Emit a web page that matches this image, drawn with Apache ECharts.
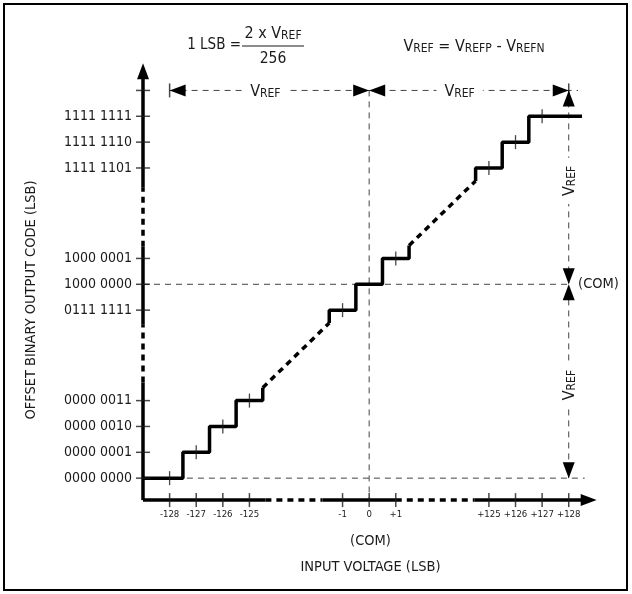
<!DOCTYPE html>
<html>
<head>
<meta charset="utf-8">
<script src="https://cdn.jsdelivr.net/npm/echarts@6/dist/echarts.min.js"></script>
<style>
  html, body { margin: 0; padding: 0; background: #fff; }
  #chart { width: 632px; height: 594px; }
</style>
</head>
<body>
<div id="chart"></div>
<script>
// both axes are broken, so one plot unit = one tick spacing on screen
var xTickPos = [-7.5, -6.5, -5.5, -4.5, -1, 0, 1, 4.5, 5.5, 6.5, 7.5];
var xTickLabels = ['-128', '-127', '-126', '-125', '-1', '0', '+1', '+125', '+126', '+127', '+128'];
var yTickPos = [-7.5, -6.5, -5.5, -4.5, -1, 0, 1, 4.5, 5.5, 6.5, 7.5];
var yTickLabels = ['0000 0000', '0000 0001', '0000 0010', '0000 0011', '0111 1111', '1000 0000',
  '1000 0001', '1111 1101', '1111 1110', '1111 1111', ''];

// transfer function, drawn pieces
var stairLow = [[-8.5, -7.5], [-7, -7.5], [-7, -6.5], [-6, -6.5], [-6, -5.5], [-5, -5.5], [-5, -4.5], [-4, -4.5], [-4, -4]];
var stairMid = [[-1.5, -1.5], [-1.5, -1], [-0.5, -1], [-0.5, 0], [0.5, 0], [0.5, 1], [1.5, 1], [1.5, 1.5]];
var stairHigh = [[4, 4], [4, 4.5], [5, 4.5], [5, 5.5], [6, 5.5], [6, 6.5], [8, 6.5]];
// codes left out
var skipLow = [[-4, -4], [-1.5, -1.5]];
var skipHigh = [[1.5, 1.5], [4, 4]];
// code centres marked on the steps
var stepMarks = [[-7.5, -7.5], [-6.5, -6.5], [-5.5, -5.5], [-4.5, -4.5], [-1, -1], [1, 1], [4.5, 4.5], [5.5, 5.5], [6.5, 6.5]];

// where the axis lines sit, and their solid / broken pieces
var xAxisAt = -8.35;
var yAxisAt = -8.5;
var xAxisSolid = [[-8.5, -3.9], [-1.75, 1], [3.95, 8.2]];
var xAxisBroken = [[-3.9, -1.75], [1, 3.95]];
var yAxisSolid = [[xAxisAt, -3.8], [-1.55, 1.45], [3.75, 8.2]];
var yAxisBroken = [[-3.8, -1.55], [1.45, 3.75]];

// dimension lines [x1, y1, x2, y2]
var guides = [[-7.5, 7.5, 7.85, 7.5], [0, 7.5, 0, xAxisAt], [-8.5, 0, 7.5, 0], [-6.85, -7.5, 8.1, -7.5], [7.5, 7.5, 7.5, -7.5]];
// arrow heads [tipX, tipY, dir] dir: 0 right, 1 up, 2 left, 3 down
var arrowHeads = [[-7.5, 7.5, 2], [0, 7.5, 0], [0, 7.5, 2], [7.5, 7.5, 0], [7.5, 7.5, 1],
  [7.5, 0, 3], [7.5, 0, 1], [7.5, -7.5, 3], [8.55, xAxisAt, 0], [yAxisAt, 8.55, 1]];
var endBars = [[-7.5, 7.5], [7.5, 7.5]];

var FONT = "'DejaVu Sans Condensed', 'Liberation Sans Narrow', sans-serif";
var INK = '#1a1a1a';

function pick(list, labels, v) {
  for (var i = 0; i < list.length; i++) {
    if (Math.abs(list[i] - v) < 1e-6) return labels[i];
  }
  return '';
}

function segments(name, segs, width, dash, color, z) {
  return {
    name: name, type: 'custom', silent: true, z: z,
    data: segs,
    encode: { x: [0, 2], y: [1, 3] },
    renderItem: function (params, api) {
      var a = api.coord([api.value(0), api.value(1)]);
      var b = api.coord([api.value(2), api.value(3)]);
      return {
        type: 'line',
        shape: { x1: a[0], y1: a[1], x2: b[0], y2: b[1] },
        style: { stroke: color, lineWidth: width, lineDash: dash }
      };
    }
  };
}

function stair(name, data, dash) {
  return {
    name: name, type: 'line', data: data, symbol: 'none', silent: true, z: 4,
    lineStyle: { color: '#000', width: 3.5, type: dash || 'solid', cap: 'butt' }
  };
}

var chart = echarts.init(document.getElementById('chart'));

chart.setOption({
  animation: false,
  grid: { left: 143, right: 34, top: 62, bottom: 90, outerBoundsMode: 'none' },
  xAxis: {
    type: 'value', min: -8.5, max: 8.6, interval: 0.5,
    axisLine: { show: false }, axisTick: { show: false }, splitLine: { show: false },
    axisLabel: {
      margin: 6, fontSize: 9.5, fontFamily: FONT, color: INK,
      formatter: function (v) { return pick(xTickPos, xTickLabels, v); }
    },
    name: '(COM)\nINPUT VOLTAGE (LSB)', nameLocation: 'middle', nameGap: 24,
    nameTextStyle: { fontSize: 14.5, fontFamily: FONT, color: INK, lineHeight: 26 }
  },
  yAxis: {
    type: 'value', min: -8.5, max: 8.6, interval: 0.5,
    axisLine: { show: false }, axisTick: { show: false }, splitLine: { show: false },
    axisLabel: {
      margin: 11, fontSize: 14, fontFamily: FONT, color: INK,
      formatter: function (v) { return pick(yTickPos, yTickLabels, v); }
    }
  },
  series: [
    segments('guides', guides, 1, [6, 5], '#444', 1),
    segments('xAxisSolid', xAxisSolid.map(function (s) { return [s[0], xAxisAt, s[1], xAxisAt]; }), 3.5, null, '#000', 3),
    segments('xAxisBroken', xAxisBroken.map(function (s) { return [s[0], xAxisAt, s[1], xAxisAt]; }), 3.5, [6, 5], '#000', 3),
    segments('yAxisSolid', yAxisSolid.map(function (s) { return [yAxisAt, s[0], yAxisAt, s[1]]; }), 3.5, null, '#000', 3),
    segments('yAxisBroken', yAxisBroken.map(function (s) { return [yAxisAt, s[0], yAxisAt, s[1]]; }), 3.5, [6, 5], '#000', 3),
    stair('low', stairLow),
    stair('mid', stairMid),
    stair('high', stairHigh),
    stair('skipLow', skipLow, [6, 5]),
    stair('skipHigh', skipHigh, [6, 5]),
    {
      name: 'stepMarks', type: 'scatter', silent: true, z: 5,
      data: stepMarks, symbol: 'rect', symbolSize: [1.3, 14], itemStyle: { color: INK }
    },
    {
      name: 'xTicks', type: 'scatter', silent: true, z: 5,
      data: xTickPos.map(function (u) { return [u, xAxisAt]; }),
      symbol: 'rect', symbolSize: [1.5, 14], itemStyle: { color: INK }
    },
    {
      name: 'yTicks', type: 'scatter', silent: true, z: 5,
      data: yTickPos.map(function (v) { return [yAxisAt, v]; }),
      symbol: 'rect', symbolSize: [14, 1.5], itemStyle: { color: INK }
    },
    {
      name: 'endBars', type: 'scatter', silent: true, z: 5,
      data: endBars, symbol: 'rect', symbolSize: [1.5, 14], itemStyle: { color: INK }
    },
    {
      name: 'arrows', type: 'custom', silent: true, z: 6,
      data: arrowHeads,
      encode: { x: 0, y: 1 },
      renderItem: function (params, api) {
        var p = api.coord([api.value(0), api.value(1)]);
        var ang = api.value(2) * Math.PI / 2;
        var dx = Math.cos(ang), dy = -Math.sin(ang);
        var L = 16, W = 6;
        return {
          type: 'polygon',
          shape: { points: [
            [p[0], p[1]],
            [p[0] - L * dx + W * dy, p[1] - L * dy - W * dx],
            [p[0] - L * dx - W * dy, p[1] - L * dy + W * dx]
          ] },
          style: { fill: '#000' }
        };
      }
    }
  ]
});

var rich = {
  v: { fontSize: 16, fontFamily: FONT, fill: INK, lineHeight: 19, verticalAlign: 'bottom' },
  s: { fontSize: 12, fontFamily: FONT, fill: INK, lineHeight: 12, verticalAlign: 'bottom' }
};

function px(u, v) { return chart.convertToPixel({ gridIndex: 0 }, [u, v]); }

function vref(u, v, rot) {
  var p = px(u, v);
  return {
    type: 'text', x: p[0], y: p[1], rotation: rot || 0, z: 100,
    style: { text: '{v|V}{s|REF}', rich: rich, align: 'center', verticalAlign: 'middle',
      backgroundColor: '#fff', padding: [1, 8] }
  };
}

var com = px(7.85, 0);

chart.setOption({
  graphic: [
    { type: 'rect', shape: { x: 4, y: 4, width: 623, height: 586 }, style: { fill: null, stroke: '#000', lineWidth: 2 } },
    vref(-3.9, 7.5),
    vref(3.4, 7.5),
    vref(7.5, 4.0, Math.PI / 2),
    vref(7.5, -3.9, Math.PI / 2),
    { type: 'text', x: com[0], y: com[1], z: 100,
      style: { text: '(COM)', font: '14.5px ' + FONT, fill: INK, align: 'left', verticalAlign: 'middle' } },
    { type: 'text', x: 31, y: 300, rotation: Math.PI / 2, z: 100,
      style: { text: 'OFFSET BINARY OUTPUT CODE (LSB)', font: '14.5px ' + FONT, fill: INK,
        align: 'center', verticalAlign: 'middle' } },
    { type: 'text', x: 241, y: 45, z: 100,
      style: { text: '1 LSB =', font: '15px ' + FONT, fill: INK, align: 'right', verticalAlign: 'middle' } },
    { type: 'text', x: 273, y: 32, z: 100,
      style: { text: '{v|2 x V}{s|REF}', rich: rich, align: 'center', verticalAlign: 'middle' } },
    { type: 'line', shape: { x1: 242, y1: 46, x2: 304, y2: 46 }, style: { stroke: INK, lineWidth: 1 } },
    { type: 'text', x: 273, y: 59, z: 100,
      style: { text: '256', font: '15.5px ' + FONT, fill: INK, align: 'center', verticalAlign: 'middle' } },
    { type: 'text', x: 474, y: 45, z: 100,
      style: { text: '{v|V}{s|REF}{v| = V}{s|REFP}{v| - V}{s|REFN}', rich: rich, align: 'center', verticalAlign: 'middle' } }
  ]
});
</script>
</body>
</html>
